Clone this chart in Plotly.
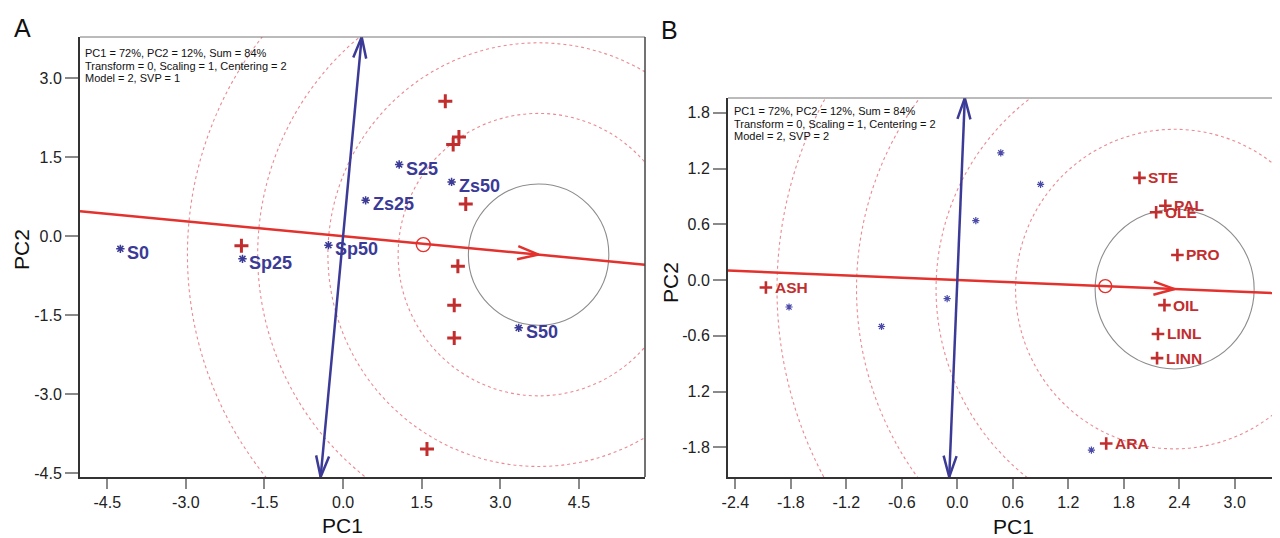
import numpy as np
import plotly.graph_objects as go

W, H = 1280, 538
OFF = 8   # page body margin of the browser: figure pixels = screen pixels - OFF

# ---------------- Panel A data ----------------
a_var_x = [1.95, 2.21, 2.10, 2.34, 2.19, 2.12, 2.12, 1.60, -1.94]
a_var_y = [2.56, 1.88, 1.74, 0.61, -0.57, -1.31, -1.93, -4.04, -0.18]
a_gen_names = ["S0", "Sp25", "Sp50", "Zs25", "S25", "Zs50", "S50"]
a_gen_x = [-4.25, -1.92, -0.28, 0.43, 1.07, 2.07, 3.35]
a_gen_y = [-0.24, -0.43, -0.17, 0.68, 1.36, 1.03, -1.74]
a_aec = [3.73, -0.35]          # average coordinate (arrow tip / circle centre)
a_ring = [1.53, -0.16]
a_step = 1.34                  # concentric circle spacing
a_xrange = [-5.02, 5.76]
a_yrange = [-4.57, 3.78]
a_xticks = [-4.5, -3.0, -1.5, 0.0, 1.5, 3.0, 4.5]
a_xticklabels = ["-4.5", "-3.0", "-1.5", "0.0", "1.5", "3.0", "4.5"]
a_yticks = [3.0, 1.5, 0.0, -1.5, -3.0, -4.5]
a_yticklabels = ["3.0", "1.5", "0.0", "-1.5", "-3.0", "-4.5"]
a_info = ["PC1 = 72%, PC2 = 12%, Sum = 84%",
          "Transform = 0, Scaling = 1, Centering = 2",
          "Model = 2, SVP = 1"]

# ---------------- Panel B data ----------------
b_var_names = ["STE", "PAL", "OLE", "PRO", "OIL", "LINL", "LINN", "ARA", "ASH"]
b_var_x = [1.97, 2.25, 2.15, 2.38, 2.24, 2.17, 2.16, 1.61, -2.07]
b_var_y = [1.10, 0.80, 0.73, 0.27, -0.27, -0.58, -0.84, -1.76, -0.08]
b_gen_x = [0.47, 0.90, 0.20, -0.11, -0.82, -1.82, 1.45]
b_gen_y = [1.37, 1.03, 0.64, -0.20, -0.50, -0.29, -1.83]
b_aec = [2.35, -0.097]
b_ring = [1.60, -0.065]
b_step = 0.86
b_xrange = [-2.48, 3.576]
b_yrange = [-2.12, 1.96]
b_xticks = [-2.4, -1.8, -1.2, -0.6, 0.0, 0.6, 1.2, 1.8, 2.4, 3.0]
b_xticklabels = ["-2.4", "-1.8", "-1.2", "-0.6", "0.0", "0.6", "1.2", "1.8", "2.4", "3.0"]
b_yticks = [1.8, 1.2, 0.6, 0.0, -0.6, -1.2, -1.8]
b_yticklabels = ["1.8", "1.2", "0.6", "0.0", "-0.6", "1.2", "-1.8"]
b_info = ["PC1 = 72%, PC2 = 12%, Sum = 84%",
          "Transform = 0, Scaling = 1, Centering = 2",
          "Model = 2, SVP = 2"]

# ---------------- styling ----------------
RED_LINE = "#e3312d"
RED_MARK = "#c22e2e"
BLUE = "#3b3a97"
DASH_COL = "#ea8a92"
FONT = "Liberation Sans, Arial, sans-serif"

# panel pixel boxes on screen (left, right, top, bottom)
A_BOX = (80, 645, 37, 477)
B_BOX = (728, 1288, 98, 477)

fig = go.Figure()
shapes = []
annotations = []


def px_x(p):
    return (p - OFF) / W


def px_y(p):
    return 1 - (p - OFF) / H


def dom(box):
    l, r, t, b = box
    return [px_x(l), min(px_x(r), 1.0)], [px_y(b), px_y(t)]


def add_head(xa, ya, tip, direc, ppu, color, length_px=21, half_px=6.5):
    d = np.array(direc, dtype=float)
    d = d / np.hypot(*d)
    n = np.array([-d[1], d[0]])
    tip = np.array(tip, dtype=float)
    base = tip - d * length_px / ppu
    p1 = base + n * half_px / ppu
    p2 = base - n * half_px / ppu
    fig.add_trace(go.Scatter(x=[p1[0], tip[0], p2[0]], y=[p1[1], tip[1], p2[1]],
                             mode="lines", line=dict(color=color, width=2.5),
                             xaxis=xa, yaxis=ya, hoverinfo="skip", cliponaxis=False))


def build_panel(xa, ya, box, xr, yr, aec, ring, step, ring_size):
    l, r, t, b = box
    ppu = (r - l) / (xr[1] - xr[0])
    xref = "x" if xa == "x" else "x2"
    yref = "y" if ya == "y" else "y2"
    # concentric circles
    for k in range(1, 6):
        rad = k * step
        shapes.append(dict(type="circle", xref=xref, yref=yref,
                           x0=aec[0] - rad, x1=aec[0] + rad,
                           y0=aec[1] - rad, y1=aec[1] + rad,
                           line=dict(color="#8c8c8c" if k == 1 else DASH_COL,
                                     width=1.1,
                                     dash="solid" if k == 1 else "3px,3px"),
                           layer="below"))
    m = aec[1] / aec[0]
    # average-environment axis (red)
    fig.add_trace(go.Scatter(x=[xr[0], xr[1]], y=[m * xr[0], m * xr[1]], mode="lines",
                             line=dict(color=RED_LINE, width=2.5),
                             xaxis=xa, yaxis=ya, hoverinfo="skip"))
    add_head(xa, ya, aec, [aec[0], aec[1]], ppu, RED_LINE)
    # perpendicular axis (blue, double-headed)
    top = [-m * yr[1], yr[1]]
    bot = [-m * yr[0], yr[0]]
    fig.add_trace(go.Scatter(x=[bot[0], top[0]], y=[bot[1], top[1]], mode="lines",
                             line=dict(color=BLUE, width=2.5),
                             xaxis=xa, yaxis=ya, hoverinfo="skip", cliponaxis=False))
    add_head(xa, ya, top, [-m, 1], ppu, BLUE)
    add_head(xa, ya, bot, [m, -1], ppu, BLUE)
    # small ring
    fig.add_trace(go.Scatter(x=[ring[0]], y=[ring[1]], mode="markers",
                             marker=dict(symbol="circle-open", size=ring_size,
                                         line=dict(color=RED_LINE, width=1.4), color=RED_LINE),
                             xaxis=xa, yaxis=ya, hoverinfo="skip"))


def info_text(lines, left_px, tops_px):
    for txt, yp in zip(lines, tops_px):
        annotations.append(dict(text=txt, x=px_x(left_px), y=px_y(yp), xref="paper", yref="paper",
                                xanchor="left", yanchor="middle", showarrow=False,
                                font=dict(family=FONT, size=11, color="#111")))


# ---------- panel A ----------
build_panel("x", "y", A_BOX, a_xrange, a_yrange, a_aec, a_ring, a_step, 14)
fig.add_trace(go.Scatter(x=a_var_x, y=a_var_y, mode="markers",
                         marker=dict(symbol="cross-thin-open", size=10, color=RED_MARK,
                                     line=dict(color=RED_MARK, width=3)),
                         xaxis="x", yaxis="y", hoverinfo="skip"))
fig.add_trace(go.Scatter(x=a_gen_x, y=a_gen_y, mode="markers",
                         marker=dict(symbol="asterisk-open", size=7, color=BLUE,
                                     line=dict(color=BLUE, width=1.5)),
                         xaxis="x", yaxis="y", hoverinfo="skip"))
for nm, gx, gy in zip(a_gen_names, a_gen_x, a_gen_y):
    annotations.append(dict(text="<b>%s</b>" % nm, x=gx, y=gy, xref="x", yref="y",
                            xanchor="left", yanchor="middle", xshift=5, yshift=-4,
                            showarrow=False, font=dict(family=FONT, size=18, color=BLUE)))

# ---------- panel B ----------
build_panel("x2", "y2", B_BOX, b_xrange, b_yrange, b_aec, b_ring, b_step, 13)
fig.add_trace(go.Scatter(x=b_var_x, y=b_var_y, mode="markers",
                         marker=dict(symbol="cross-thin-open", size=9, color=RED_MARK,
                                     line=dict(color=RED_MARK, width=2.6)),
                         xaxis="x2", yaxis="y2", hoverinfo="skip"))
fig.add_trace(go.Scatter(x=b_gen_x, y=b_gen_y, mode="markers",
                         marker=dict(symbol="asterisk-open", size=6, color="#4a4aa8",
                                     line=dict(color="#4a4aa8", width=1.2)),
                         xaxis="x2", yaxis="y2", hoverinfo="skip"))
for nm, vx, vy in zip(b_var_names, b_var_x, b_var_y):
    annotations.append(dict(text="<b>%s</b>" % nm, x=vx, y=vy, xref="x2", yref="y2",
                            xanchor="left", yanchor="middle", xshift=7, yshift=0,
                            showarrow=False, font=dict(family=FONT, size=15.5, color=RED_MARK)))

info_text(a_info, 83, [53, 65.5, 78])
info_text(b_info, 732, [111, 123.5, 136])

# panel letters
for txt, xp, yp in [("A", 22, 28), ("B", 669, 30)]:
    annotations.append(dict(text=txt, x=px_x(xp), y=px_y(yp), xref="paper", yref="paper",
                            xanchor="center", yanchor="middle", showarrow=False,
                            font=dict(family=FONT, size=25, color="#111")))
# axis titles
for txt, xp, yp, ang in [("PC1", 342, 525, 0), ("PC2", 21, 250, -90),
                         ("PC1", 1013, 526, 0), ("PC2", 670, 283, -90)]:
    annotations.append(dict(text=txt, x=px_x(xp), y=px_y(yp), xref="paper", yref="paper",
                            xanchor="center", yanchor="middle",
                            showarrow=False, textangle=ang,
                            font=dict(family=FONT, size=21, color="#111")))

# top / right thin borders
shapes.append(dict(type="line", xref="x domain", yref="y domain", x0=0, x1=1, y0=1, y1=1,
                   line=dict(color="#777", width=1)))
shapes.append(dict(type="line", xref="x domain", yref="y domain", x0=1, x1=1, y0=0, y1=1,
                   line=dict(color="#444", width=1.5)))
shapes.append(dict(type="line", xref="x2 domain", yref="y2 domain", x0=0, x1=1, y0=1, y1=1,
                   line=dict(color="#777", width=1)))

axis_common = dict(showgrid=False, zeroline=False, ticks="outside", tickwidth=2,
                   tickcolor="#8a8a8a", showline=True, linecolor="#333", linewidth=2,
                   automargin=False,
                   tickfont=dict(family=FONT, size=16, color="#222"), fixedrange=True)
xax = dict(ticklen=10, ticklabelstandoff=0, **axis_common)
yax = dict(ticklen=13, ticklabelstandoff=0, **axis_common)

ax_dom, ay_dom = dom(A_BOX)
bx_dom, by_dom = dom(B_BOX)

fig.update_layout(
    width=W, height=H, margin=dict(l=0, r=0, t=0, b=0, autoexpand=False),
    paper_bgcolor="white", plot_bgcolor="white", showlegend=False, hovermode=False,
    xaxis=dict(domain=ax_dom, range=a_xrange, tickvals=a_xticks, ticktext=a_xticklabels,
               anchor="y", **xax),
    yaxis=dict(domain=ay_dom, range=a_yrange, tickvals=a_yticks, ticktext=a_yticklabels,
               anchor="x", **yax),
    xaxis2=dict(domain=bx_dom, range=b_xrange, tickvals=b_xticks, ticktext=b_xticklabels,
                anchor="y2", **xax),
    yaxis2=dict(domain=by_dom, range=b_yrange, tickvals=b_yticks, ticktext=b_yticklabels,
                anchor="x2", **yax),
    shapes=shapes, annotations=annotations,
)

fig.write_html("out.html")
